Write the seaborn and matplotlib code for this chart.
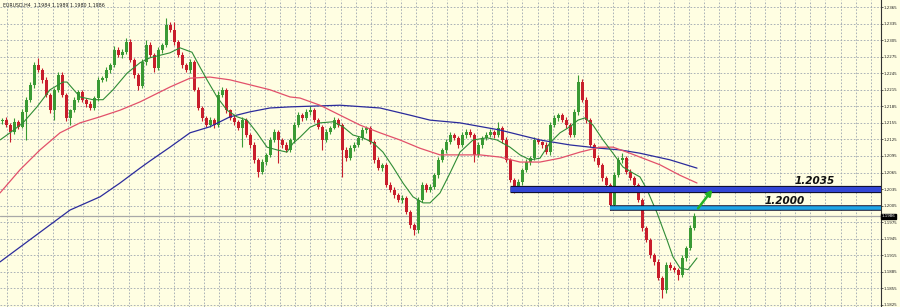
import numpy as np
import pandas as pd
import matplotlib
matplotlib.use("Agg")
import matplotlib.pyplot as plt
import matplotlib.patheffects as pe
import seaborn as sns

# ---------------- data (EURUSD H4) ----------------
first_open = 1.2158
closes = [
    1.2160, 1.2151, 1.2139, 1.2157, 1.2148, 1.2175, 1.2197, 1.2224, 1.2260, 1.2251,
    1.2233, 1.2206, 1.2178, 1.2215, 1.2242, 1.2206, 1.2164, 1.2178, 1.2197, 1.2211,
    1.2197, 1.2189, 1.2182, 1.2200, 1.2233, 1.2236, 1.2251, 1.2260, 1.2287, 1.2278,
    1.2284, 1.2302, 1.2269, 1.2242, 1.2222, 1.2265, 1.2296, 1.2278, 1.2254, 1.2287,
    1.2296, 1.2332, 1.2323, 1.2302, 1.2278, 1.2260, 1.2251, 1.2265, 1.2215, 1.2182,
    1.2164, 1.2151, 1.2160, 1.2151, 1.2206, 1.2215, 1.2178, 1.2164, 1.2157, 1.2146,
    1.2160, 1.2133, 1.2115, 1.2088, 1.2066, 1.2084, 1.2097, 1.2124, 1.2139, 1.2124,
    1.2115, 1.2106, 1.2124, 1.2151, 1.2169, 1.2164, 1.2175, 1.2178, 1.2160, 1.2148,
    1.2124, 1.2139, 1.2146, 1.2160, 1.2151, 1.2106, 1.2091, 1.2110, 1.2115, 1.2128,
    1.2142, 1.2146, 1.2120, 1.2088, 1.2073, 1.2079, 1.2042, 1.2034, 1.2024, 1.2015,
    1.2019, 1.1994, 1.1970, 1.1961, 1.2015, 1.2042, 1.2034, 1.2039, 1.2061, 1.2088,
    1.2106, 1.2120, 1.2133, 1.2128, 1.2115, 1.2133, 1.2139, 1.2133, 1.2097, 1.2115,
    1.2128, 1.2133, 1.2139, 1.2133, 1.2146, 1.2124, 1.2088, 1.2052, 1.2039, 1.2048,
    1.2070, 1.2084, 1.2091, 1.2124, 1.2120, 1.2115, 1.2102, 1.2151, 1.2164, 1.2169,
    1.2160, 1.2151, 1.2133, 1.2175, 1.2229, 1.2197, 1.2160, 1.2115, 1.2091, 1.2079,
    1.2055, 1.2042, 1.2006, 1.2061, 1.2088, 1.2091, 1.2066, 1.2055, 1.2042, 1.2015,
    1.1964, 1.1943, 1.1916, 1.1903, 1.1874, 1.1852, 1.1897, 1.1892, 1.1889, 1.1879,
    1.1910, 1.1928, 1.1964, 1.1986,
]
upper_wick_pips = [
    4, 5, 3, 6, 4, 5, 4, 5, 6, 13, 4, 5, 3, 4, 5, 6, 4, 3, 5, 4,
    4, 3, 5, 4, 6, 4, 5, 4, 8, 5, 4, 7, 5, 4, 3, 6, 9, 5, 4, 6,
    4, 13, 5, 15, 4, 5, 3, 6, 4, 5, 4, 3, 5, 4, 6, 5, 4, 3, 5, 4,
    5, 4, 3, 5, 4, 6, 4, 5, 4, 3, 4, 5, 4, 6, 5, 4, 5, 8, 4, 3,
    4, 5, 4, 6, 4, 3, 5, 4, 5, 4, 5, 4, 3, 4, 5, 4, 3, 5, 4, 4,
    5, 4, 3, 4, 6, 5, 4, 5, 4, 6, 4, 5, 6, 4, 3, 5, 4, 5, 4, 5,
    4, 5, 4, 3, 11, 4, 5, 3, 4, 5, 4, 6, 4, 5, 4, 3, 5, 6, 5, 4,
    4, 5, 3, 6, 13, 5, 4, 3, 4, 5, 4, 3, 4, 5, 6, 9, 4, 5, 3, 4,
    4, 5, 3, 4, 5, 4, 6, 5, 4, 3, 5, 4, 6, 5,
]
lower_wick_pips = [
    5, 4, 18, 4, 5, 3, 51, 4, 5, 4, 5, 4, 6, 18, 4, 5, 6, 13, 4, 5,
    4, 5, 3, 4, 5, 4, 6, 5, 4, 3, 5, 4, 3, 5, 7, 4, 5, 4, 6, 4,
    5, 4, 3, 5, 4, 6, 4, 5, 3, 4, 5, 4, 3, 5, 4, 4, 5, 3, 6, 4,
    35, 4, 5, 6, 9, 4, 5, 3, 4, 42, 5, 4, 3, 5, 4, 6, 4, 5, 4, 5,
    18, 4, 5, 3, 4, 49, 5, 4, 6, 4, 4, 5, 4, 6, 4, 5, 3, 4, 5, 4,
    5, 4, 6, 9, 5, 4, 5, 4, 3, 5, 4, 5, 3, 4, 6, 4, 5, 4, 13, 4,
    5, 4, 3, 5, 4, 6, 4, 5, 11, 4, 5, 4, 6, 3, 4, 5, 4, 5, 4, 6,
    4, 5, 3, 4, 5, 4, 6, 4, 5, 4, 5, 4, 8, 5, 4, 5, 3, 4, 5, 4,
    5, 4, 6, 5, 4, 14, 5, 4, 5, 9, 4, 5, 4, 4,
]

# moving averages: (bar position, price)
ma_fast_x = [-0.5, 2, 5.25, 8.75, 12, 15.25, 16.25, 19.5, 22.75, 25.25, 27.75, 31.25, 34.5, 37,
             42, 44.5, 47.5, 49.5, 51.25, 53.75, 56.25, 58.75, 61.25, 63.75, 66.25, 68.75, 71.25,
             72.75, 74.5, 77, 79.5, 82.75, 85.25, 87.75, 90.25, 92.75, 95.25, 97.75, 100.25,
             102.75, 105.25, 107, 109.5, 112, 114.5, 117.75, 121.25, 123.75, 127, 129.5, 132,
             134.5, 137, 139.5, 142, 144, 145.75, 147.75, 150.25, 152.75, 155.25, 157.75, 159.5,
             161.25, 163.75, 166.25, 167.75, 169.5, 171.5, 173.75]
ma_fast_y = [1.2124, 1.2137, 1.2155, 1.2184, 1.2215, 1.2229, 1.2229, 1.2202, 1.2197, 1.2197,
             1.2215, 1.2245, 1.2264, 1.2273, 1.2282, 1.2291, 1.2283, 1.2256, 1.2233, 1.2202,
             1.2178, 1.2166, 1.2160, 1.2137, 1.2111, 1.2106, 1.2102, 1.2118, 1.2129, 1.2147,
             1.2155, 1.2157, 1.2148, 1.2133, 1.2128, 1.2119, 1.2102, 1.2075, 1.2046, 1.2021,
             1.2010, 1.2010, 1.2028, 1.2064, 1.2102, 1.2124, 1.2128, 1.2124, 1.2111, 1.2097,
             1.2088, 1.2091, 1.2119, 1.2137, 1.2148, 1.2160, 1.2164, 1.2151, 1.2124, 1.2100,
             1.2075, 1.2064, 1.2057, 1.2034, 1.1992, 1.1943, 1.1912, 1.1892, 1.1889, 1.1910]
ma_mid_x = [-0.5, 4.5, 9.5, 14.5, 19.5, 24.5, 29.5, 34.5, 37, 42, 47, 52, 57, 62, 67, 72, 74.5,
            79.5, 84.5, 89.5, 94.5, 99.5, 104.5, 109.5, 114.5, 119.5, 124.5, 129.5, 134.5,
            139.5, 144.5, 149.5, 152.75, 156.25, 159.5, 164.5, 169.5, 173.75]
ma_mid_y = [1.2028, 1.2070, 1.2106, 1.2137, 1.2155, 1.2166, 1.2178, 1.2193, 1.2202, 1.2220,
            1.2236, 1.2238, 1.2233, 1.2224, 1.2215, 1.2202, 1.2200, 1.2187, 1.2169, 1.2151,
            1.2137, 1.2124, 1.2109, 1.2097, 1.2097, 1.2097, 1.2093, 1.2084, 1.2084, 1.2091,
            1.2102, 1.2111, 1.2111, 1.2102, 1.2093, 1.2079, 1.2060, 1.2046]
ma_slow_x = [-0.5, 8.25, 17, 24.5, 29.5, 34.5, 37, 42, 47, 52, 57, 62, 67, 72, 84.5, 94.5, 102,
             107, 114.5, 124.5, 134.5, 142, 149.5, 154.5, 159.5, 167, 173.75]
ma_slow_y = [1.1903, 1.1950, 1.1997, 1.2021, 1.2046, 1.2073, 1.2086, 1.2111, 1.2137, 1.2148,
             1.2166, 1.2175, 1.2182, 1.2184, 1.2187, 1.2182, 1.2169, 1.2160, 1.2155, 1.2142,
             1.2124, 1.2115, 1.2109, 1.2106, 1.2100, 1.2088, 1.2073]

level_prices = [1.2035, 1.2000]
level_labels = ["1.2035", "1.2000"]
level_start_bar = [127, 152]
label_bar = [198.2, 190.7]
label_price = [1.2050, 1.2013]
current_price = 1.1986
arrow_from = (174.0, 1.2000)
arrow_to = (177.6, 1.2034)
title_text = "EURUSD,H4  1.1984 1.1989 1.1980 1.1986"
y_ticks = [1.1825, 1.1855, 1.1885, 1.1915, 1.1945, 1.1975, 1.2005, 1.2035, 1.2065, 1.2095,
           1.2125, 1.2155, 1.2185, 1.2215, 1.2245, 1.2275, 1.2305, 1.2335, 1.2365]

# ---------------- build frames ----------------
opens = [first_open] + closes[:-1]
df = pd.DataFrame({"open": opens, "close": closes,
                   "uw": upper_wick_pips, "lw": lower_wick_pips})
df["bar"] = np.arange(len(df))
df["high"] = df[["open", "close"]].max(axis=1) + df["uw"] * 0.0001
df["low"] = df[["open", "close"]].min(axis=1) - df["lw"] * 0.0001
df["up"] = df["close"] >= df["open"]

BG = "#fffee2"
sns.set_style("white")
plt.rcParams["font.family"] = ["DejaVu Sans"]

fig = plt.figure(figsize=(9.0, 3.07), dpi=100, facecolor=BG)
ax = fig.add_axes([0.0, 0.0, 881 / 900, 1.0])
ax.set_facecolor(BG)

XMIN, XMAX = -0.5, 219.75
YMIN, YMAX = 1.18213, 1.23777
ax.set_xlim(XMIN, XMAX)
ax.set_ylim(YMIN, YMAX)

# grid
ax.set_xticks(np.arange(1.33, XMAX, 3.7875))
ax.set_yticks(y_ticks)
ax.grid(True, color="#9ea6b0", lw=0.6, ls=(0, (2, 2)))
ax.set_axisbelow(True)
ax.tick_params(axis="x", length=0, labelbottom=False)
ax.yaxis.tick_right()
ax.tick_params(axis="y", length=1.5, width=0.5, pad=0.6, labelsize=2.9, colors="#222222")
ax.set_yticklabels([f"{t:.4f}" for t in y_ticks])
for side in ["left", "top", "bottom"]:
    ax.spines[side].set_visible(False)
ax.spines["right"].set_color("#333333")
ax.spines["right"].set_linewidth(0.8)

# current price line
ax.axhline(current_price, color="#a8a8a8", lw=0.9, zorder=1)

# candles
UP, DOWN = "#3a9a34", "#c81e2c"
colors = np.where(df["up"], UP, DOWN)
ax.vlines(df["bar"], df["low"], df["high"], colors=colors, lw=0.8, zorder=3)
body = (df["close"] - df["open"]).abs().clip(lower=0.00012)
ax.bar(df["bar"], body, bottom=df[["open", "close"]].min(axis=1), width=0.75,
       color=colors, linewidth=0, zorder=4)

# moving averages
sns.lineplot(x=ma_slow_x, y=ma_slow_y, ax=ax, color="#2b2b9c", lw=0.9, zorder=5)
sns.lineplot(x=ma_mid_x, y=ma_mid_y, ax=ax, color="#e2506a", lw=0.9, zorder=5)
sns.lineplot(x=ma_fast_x, y=ma_fast_y, ax=ax, color="#2f8c35", lw=0.8, zorder=6)

# horizontal levels
lvl_styles = [dict(color="#3346d6", lw=3.6, edge=5.2), dict(color="#1fa6e8", lw=2.6, edge=4.0)]
for p, s, st in zip(level_prices, level_start_bar, lvl_styles):
    ax.hlines(p, s, XMAX, color=st["color"], lw=st["lw"], zorder=7,
              path_effects=[pe.Stroke(linewidth=st["edge"], foreground="#101030"), pe.Normal()])
for t, bx, by in zip(level_labels, label_bar, label_price):
    ax.text(bx, by, t, fontsize=7.5, fontweight="bold", fontstyle="italic",
            color="#111111", va="center", ha="left", zorder=8)

# arrow
ax.annotate("", xy=arrow_to, xytext=arrow_from,
            arrowprops=dict(arrowstyle="-|>", color="#22b226", lw=1.8, mutation_scale=8,
                            shrinkA=0, shrinkB=0), zorder=9)

# title
ax.text(0.003, 0.992, title_text, transform=ax.transAxes, fontsize=3.4,
        color="#222222", va="top", ha="left")

# current price tag on axis
ax.text(1.001, current_price, f"{current_price:.4f}", transform=ax.get_yaxis_transform(),
        fontsize=2.9, color="white", va="center", ha="left", zorder=10, clip_on=False,
        bbox=dict(boxstyle="square,pad=0.12", fc="black", ec="black"))

fig.savefig("out.png", dpi=100, facecolor=BG)
